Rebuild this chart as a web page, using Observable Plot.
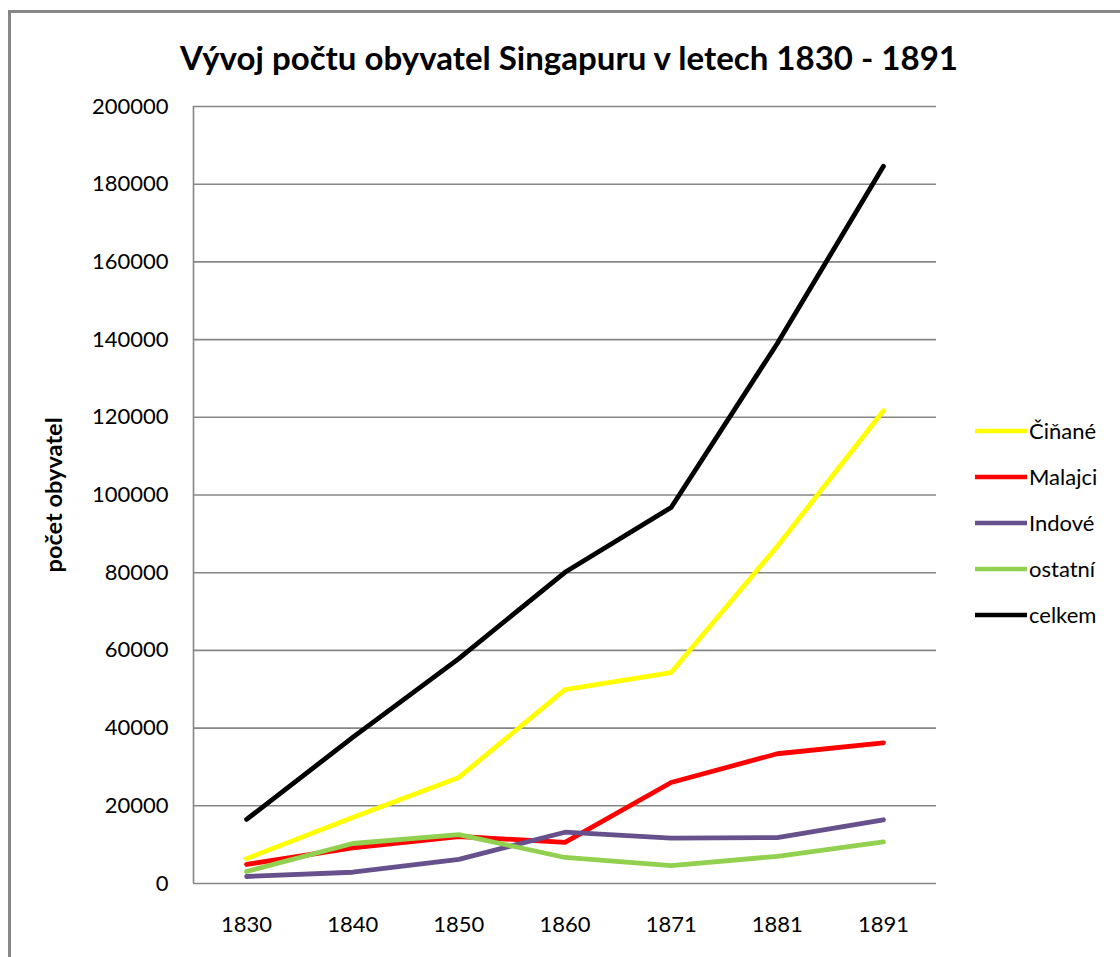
<!DOCTYPE html>
<html>
<head>
<meta charset="utf-8">
<script src="https://cdn.jsdelivr.net/npm/d3@7"></script>
<script src="https://cdn.jsdelivr.net/npm/@observablehq/plot@0.6"></script>
<style>
  html, body { margin: 0; padding: 0; background: #fff; overflow: hidden; }
  #wrap { position: relative; width: 1120px; height: 957px; overflow: hidden; font-family: Lato, "Open Sans", sans-serif; }
  #wrap > svg { position: absolute; left: 0; top: 0; }
  #overlay { position: absolute; left: 0; top: 0; pointer-events: none; }
</style>
</head>
<body>
<div id="wrap"></div>
<script>
// ---- data ----
const years = ["1830", "1840", "1850", "1860", "1871", "1881", "1891"];
const seriesNames = ["Čiňané", "Malajci", "Indové", "ostatní", "celkem"];
const seriesColors = ["#FFFF00", "#FF0000", "#66518C", "#92D050", "#000000"];
const cinane  = [6400, 17000, 27300, 49900, 54300, 86800, 121700];
const malajci = [4900, 9200, 12100, 10600, 26000, 33400, 36200];
const indove  = [1800, 2900, 6200, 13200, 11700, 11800, 16400];
const ostatni = [3100, 10300, 12600, 6700, 4600, 7000, 10700];
const celkem  = [16500, 37600, 57900, 80100, 96800, 139000, 184600];
const yTicks = [0, 20000, 40000, 60000, 80000, 100000, 120000, 140000, 160000, 180000, 200000];
const titleText = "Vývoj počtu obyvatel Singapuru v letech 1830 - 1891";
const yLabel = "počet obyvatel";

const seriesValues = [cinane, malajci, indove, ostatni, celkem];
const rows = [];
seriesNames.forEach((name, s) => {
  seriesValues[s].forEach((v, i) => rows.push({series: name, i, year: years[i], value: v}));
});

const chart = Plot.plot({
  width: 1120,
  height: 957,
  marginLeft: 193,
  marginRight: 184,
  marginTop: 106,
  marginBottom: 74,
  style: {fontFamily: "Lato, 'Open Sans', sans-serif", fontSize: "22px", color: "#000", background: "transparent"},
  x: {domain: [-0.5, years.length - 0.5], ticks: d3.range(years.length), tickFormat: i => years[i], label: null},
  y: {domain: [0, 200000], ticks: yTicks, tickFormat: d => String(d), label: null},
  color: {domain: seriesNames, range: seriesColors},
  marks: [
    Plot.ruleY(yTicks, {stroke: "#868686", strokeWidth: 1.6}),
    Plot.ruleX([-0.5], {stroke: "#868686", strokeWidth: 1.6}),
    Plot.axisY({ticks: yTicks, tickSize: 0, tickPadding: 25, tickFormat: d => String(d), fontSize: 22, label: null}),
    Plot.axisX({ticks: d3.range(years.length), tickSize: 0, tickPadding: 33, tickFormat: i => years[i], fontSize: 22, label: null}),
    Plot.line(rows, {x: "i", y: "value", z: "series", stroke: "series", strokeWidth: 4.8, strokeLinejoin: "round", strokeLinecap: "round"})
  ]
});
document.getElementById("wrap").appendChild(chart);

// ---- overlay: border, title, y label, legend ----
const ov = d3.select("#wrap").append("svg").attr("id", "overlay").attr("width", 1120).attr("height", 957);
ov.append("rect").attr("x", 9.5).attr("y", 11.5).attr("width", 1300).attr("height", 1200)
  .attr("fill", "none").attr("stroke", "#878787").attr("stroke-width", 3);
ov.append("text").attr("x", 569).attr("y", 70).attr("text-anchor", "middle")
  .attr("font-family", "Lato, 'Open Sans', sans-serif").attr("font-weight", "bold").attr("font-size", 32)
  .attr("textLength", 778).attr("lengthAdjust", "spacingAndGlyphs")
  .text(titleText);
ov.append("text").attr("transform", "translate(62,495) rotate(-90)").attr("text-anchor", "middle")
  .attr("font-family", "Lato, 'Open Sans', sans-serif").attr("font-weight", "bold").attr("font-size", 22)
  .attr("textLength", 155).attr("lengthAdjust", "spacingAndGlyphs")
  .text(yLabel);
const lg = ov.append("g");
seriesNames.forEach((name, k) => {
  const y = 431 + k * 46;
  lg.append("line").attr("x1", 975).attr("x2", 1027).attr("y1", y).attr("y2", y)
    .attr("stroke", seriesColors[k]).attr("stroke-width", 4.5);
  lg.append("text").attr("x", 1029).attr("y", y).attr("dy", "0.35em")
    .attr("font-family", "Lato, 'Open Sans', sans-serif").attr("font-size", 22).text(name);
});
</script>
</body>
</html>
